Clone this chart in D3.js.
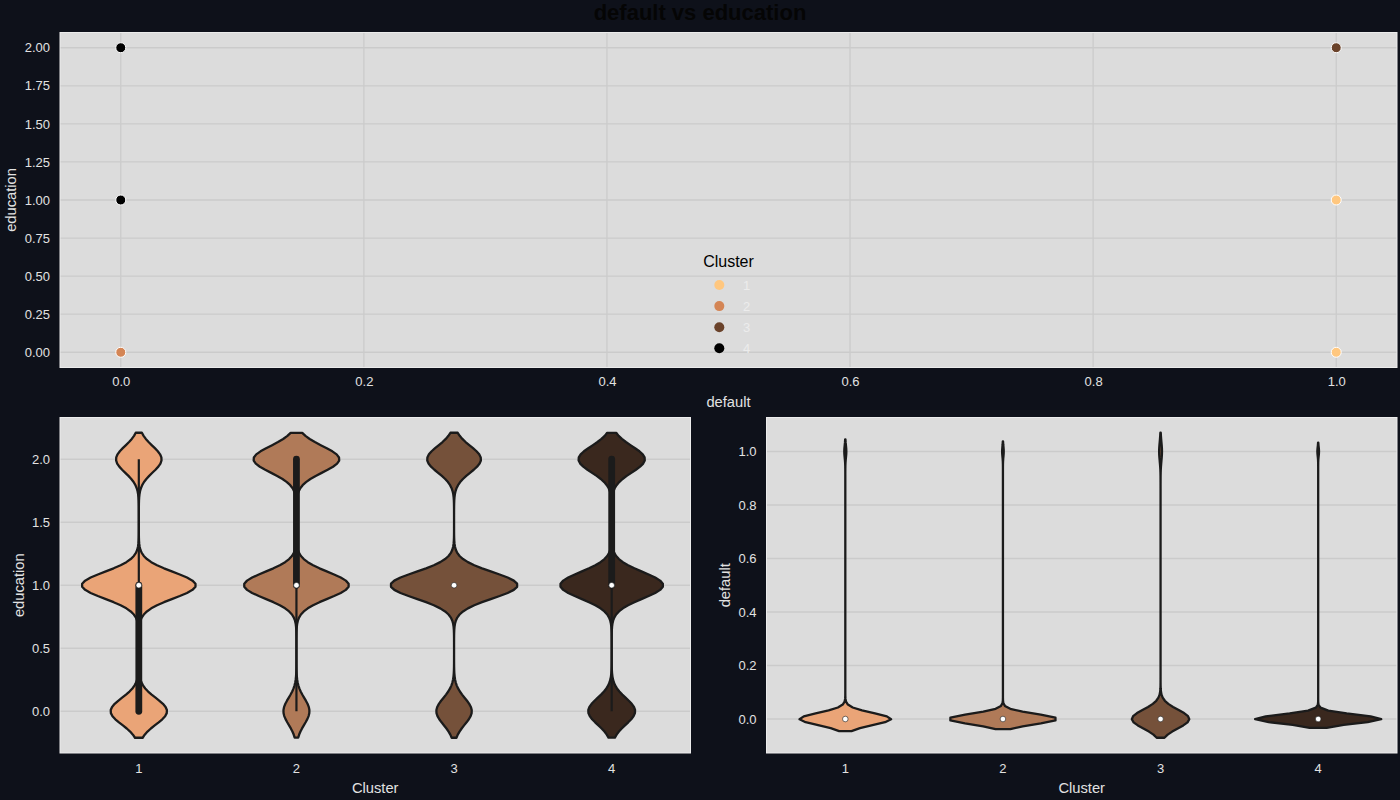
<!DOCTYPE html>
<html>
<head>
<meta charset="utf-8">
<script src="https://cdn.jsdelivr.net/npm/d3@7"></script>
<style>
  html, body { margin: 0; padding: 0; background: #0e111a; }
  svg { display: block; }
  text { font-family: "Liberation Sans", Arial, sans-serif; }
</style>
</head>
<body>
<svg id="chart" width="1400" height="800"></svg>
<script>
// ---------------- data ----------------
const clusters = [1, 2, 3, 4];
const scatterColors = ["#ffc77f", "#d48555", "#6a422a", "#000000"];   // copper_r (continuous hue)
const violinColors = ["#eaa477", "#b07a58", "#75513a", "#3a281e"];    // copper_r, desaturated

// top scatter: visible points (default, education, cluster)
const scatterDefault   = [0, 0, 0, 1, 1, 1];
const scatterEducation = [2, 1, 0, 2, 1, 0];
const scatterCluster   = [4, 4, 2, 3, 1, 1];

// violin data: counts per value for each cluster
const educationLevels = [0, 1, 2];
const educationCounts = [
  [3067, 6204, 2479],
  [1224, 4937, 4039],
  [1345, 4813, 2042],
  [3255, 7140, 4605]
];
const defaultLevels = [0, 1];
const defaultCounts = [
  [11491, 259],
  [10050, 150],
  [7812, 388],
  [14806, 194]
];

// tick labels
const topXTicks = [0, 0.2, 0.4, 0.6, 0.8, 1.0];
const topYTicks = [0, 0.25, 0.5, 0.75, 1.0, 1.25, 1.5, 1.75, 2.0];
const eduTicks = [0, 0.5, 1.0, 1.5, 2.0];
const defTicks = [0, 0.2, 0.4, 0.6, 0.8, 1.0];

// ---------------- helpers ----------------
const svg = d3.select("#chart");
const BG_PANEL = "#dcdcdc", GRID = "#cbcbcb", TXT = "#e2e2e2", LINE = "#1b1b1b";

function stats(levels, counts) {
  const n = d3.sum(counts);
  const mean = d3.sum(levels, (v, i) => v * counts[i]) / n;
  const ss = d3.sum(levels, (v, i) => counts[i] * (v - mean) * (v - mean));
  const std = Math.sqrt(ss / (n - 1));
  const bw = std * Math.pow(n, -1 / 5);   // Scott's rule
  const present = levels.filter((v, i) => counts[i] > 0);
  const vmin = d3.min(present), vmax = d3.max(present);
  const valAt = idx => {
    let cum = 0;
    for (let i = 0; i < levels.length; i++) { cum += counts[i]; if (idx < cum) return levels[i]; }
    return levels[levels.length - 1];
  };
  const quant = q => {
    const pos = q * (n - 1), lo = Math.floor(pos), hi = Math.ceil(pos);
    return valAt(lo) + (valAt(hi) - valAt(lo)) * (pos - lo);
  };
  const q25 = quant(0.25), q50 = quant(0.5), q75 = quant(0.75);
  const iqr = q75 - q25, lim = 1.5 * iqr;
  const h1 = d3.min(present.filter(v => v >= q25 - lim));
  const h2 = d3.max(present.filter(v => v <= q75 + lim));
  const lo = vmin - 2 * bw, hi = vmax + 2 * bw, G = 100;
  const grid = d3.range(G).map(k => lo + (hi - lo) * k / (G - 1));
  const norm = 1 / (n * bw * Math.sqrt(2 * Math.PI));
  const dens = grid.map(x => ({
    x: x,
    d: norm * d3.sum(levels, (v, i) => counts[i] * Math.exp(-0.5 * ((x - v) / bw) ** 2))
  }));
  return { n, bw, q25, q50, q75, h1, h2, dens, lo, hi };
}

function panel(g, x0, y0, w, h) {
  g.append("rect").attr("x", x0).attr("y", y0).attr("width", w).attr("height", h)
    .attr("fill", BG_PANEL);
}
function border(g, x0, y0, w, h) {
  g.append("rect").attr("x", x0).attr("y", y0).attr("width", w).attr("height", h)
    .attr("fill", "none").attr("stroke", "#ececec").attr("stroke-width", 1);
}

// ---------------- title ----------------
svg.append("text").attr("x", 700).attr("y", 19.5).attr("text-anchor", "middle")
  .attr("font-size", 22).attr("font-weight", "bold").attr("fill", "#050505")
  .text("default vs education");

// ---------------- top scatter ----------------
(function () {
  const L = 60, R = 1397, T = 32.5, B = 367.5;
  const g = svg.append("g");
  panel(g, L, T, R - L, B - T);
  const x = d3.scaleLinear().domain([-0.05, 1.05]).range([L, R]);
  const y = d3.scaleLinear().domain([-0.1, 2.1]).range([B, T]);
  g.selectAll(".vg").data(topXTicks).join("line")
    .attr("x1", d => x(d)).attr("x2", d => x(d)).attr("y1", T).attr("y2", B)
    .attr("stroke", GRID).attr("stroke-width", 1.3);
  g.selectAll(".hg").data(topYTicks).join("line")
    .attr("x1", L).attr("x2", R).attr("y1", d => y(d)).attr("y2", d => y(d))
    .attr("stroke", GRID).attr("stroke-width", 1.3);
  border(g, L, T, R - L, B - T);

  const xa = g.append("g").attr("transform", `translate(0,${B})`)
    .call(d3.axisBottom(x).tickValues(topXTicks).tickFormat(d3.format(".1f")).tickSize(0).tickPadding(0));
  xa.select(".domain").remove();
  xa.selectAll("text").attr("y", 18.5).attr("dy", null).attr("fill", TXT).attr("font-size", 13)
    .attr("font-family", "Liberation Sans, Arial, sans-serif");
  const ya = g.append("g").attr("transform", `translate(${L},0)`)
    .call(d3.axisLeft(y).tickValues(topYTicks).tickFormat(d3.format(".2f")).tickSize(0).tickPadding(10));
  ya.select(".domain").remove();
  ya.selectAll("text").attr("fill", TXT).attr("font-size", 13)
    .attr("font-family", "Liberation Sans, Arial, sans-serif");

  const pts = scatterDefault.map((d, i) => ({ d, e: scatterEducation[i], c: scatterCluster[i] }));
  g.selectAll(".pt").data(pts).join("circle")
    .attr("cx", p => x(p.d)).attr("cy", p => y(p.e)).attr("r", 5)
    .attr("fill", p => scatterColors[p.c - 1]).attr("stroke", "#ffffff").attr("stroke-width", 1);

  g.append("text").attr("x", (L + R) / 2).attr("y", 406.5).attr("text-anchor", "middle")
    .attr("font-size", 14.7).attr("fill", TXT).text("default");
  g.append("text").attr("transform", `translate(16,${(T + B) / 2}) rotate(-90)`)
    .attr("text-anchor", "middle").attr("font-size", 14.7).attr("fill", TXT).text("education");

  // legend
  const lg = g.append("g");
  lg.append("text").attr("x", 728.5).attr("y", 267).attr("text-anchor", "middle")
    .attr("font-size", 16).attr("fill", "#000").text("Cluster");
  clusters.forEach((c, i) => {
    const yy = 285 + i * 21.1;
    lg.append("circle").attr("cx", 719.3).attr("cy", yy).attr("r", 5)
      .attr("fill", scatterColors[i]);
    lg.append("text").attr("x", 743).attr("y", yy + 4.5).attr("font-size", 13)
      .attr("fill", "#ececec").text(String(c));
  });
})();

// ---------------- violin panels ----------------
function violinPanel(L, R, levels, countsArr, ticks, ylabel, ylabelX) {
  const T = 417.5, B = 753;
  const g = svg.append("g");
  panel(g, L, T, R - L, B - T);
  const st = countsArr.map(c => stats(levels, c));
  const lo = d3.min(st, s => s.lo), hi = d3.max(st, s => s.hi);
  const pad = (hi - lo) * 0.05;
  const y = d3.scaleLinear().domain([lo - pad, hi + pad]).range([B, T]);
  const x = d3.scaleBand().domain(clusters).range([L, R]).padding(0);
  const half = x.bandwidth() * 0.8 / 2;
  const maxD = d3.max(st, s => d3.max(s.dens, p => p.d));

  g.selectAll(".hg").data(ticks).join("line")
    .attr("x1", L).attr("x2", R).attr("y1", d => y(d)).attr("y2", d => y(d))
    .attr("stroke", GRID).attr("stroke-width", 1.3);
  border(g, L, T, R - L, B - T);

  const xa = g.append("g").attr("transform", `translate(0,${B})`)
    .call(d3.axisBottom(x).tickSize(0).tickPadding(0));
  xa.select(".domain").remove();
  xa.selectAll("text").attr("y", 19.5).attr("dy", null).attr("fill", TXT).attr("font-size", 13)
    .attr("font-family", "Liberation Sans, Arial, sans-serif");
  const ya = g.append("g").attr("transform", `translate(${L},0)`)
    .call(d3.axisLeft(y).tickValues(ticks).tickFormat(d3.format(".1f")).tickSize(0).tickPadding(10));
  ya.select(".domain").remove();
  ya.selectAll("text").attr("fill", TXT).attr("font-size", 13)
    .attr("font-family", "Liberation Sans, Arial, sans-serif");

  st.forEach((s, i) => {
    const cx = x(clusters[i]) + x.bandwidth() / 2;
    const area = d3.area()
      .y(p => y(p.x))
      .x0(p => cx - p.d / maxD * half)
      .x1(p => cx + p.d / maxD * half);
    g.append("path").datum(s.dens).attr("d", area)
      .attr("fill", violinColors[i]).attr("stroke", LINE).attr("stroke-width", 2.3)
      .attr("stroke-linejoin", "round");
    if (s.h2 > s.h1) {
      g.append("line").attr("x1", cx).attr("x2", cx).attr("y1", y(s.h1)).attr("y2", y(s.h2))
        .attr("stroke", LINE).attr("stroke-width", 2.2);
    }
    if (s.q75 > s.q25) {
      g.append("line").attr("x1", cx).attr("x2", cx).attr("y1", y(s.q25)).attr("y2", y(s.q75))
        .attr("stroke", LINE).attr("stroke-width", 6.8).attr("stroke-linecap", "round");
    }
    g.append("circle").attr("cx", cx).attr("cy", y(s.q50)).attr("r", 2.8)
      .attr("fill", "#ffffff").attr("stroke", LINE).attr("stroke-width", 0.6);
  });

  g.append("text").attr("x", (L + R) / 2).attr("y", 792.5).attr("text-anchor", "middle")
    .attr("font-size", 14.7).attr("fill", TXT).text("Cluster");
  g.append("text").attr("transform", `translate(${ylabelX},${(T + B) / 2}) rotate(-90)`)
    .attr("text-anchor", "middle").attr("font-size", 14.7).attr("fill", TXT).text(ylabel);
}

violinPanel(60, 690.5, educationLevels, educationCounts, eduTicks, "education", 23.5);
violinPanel(766.5, 1397, defaultLevels, defaultCounts, defTicks, "default", 729.5);
</script>
</body>
</html>
